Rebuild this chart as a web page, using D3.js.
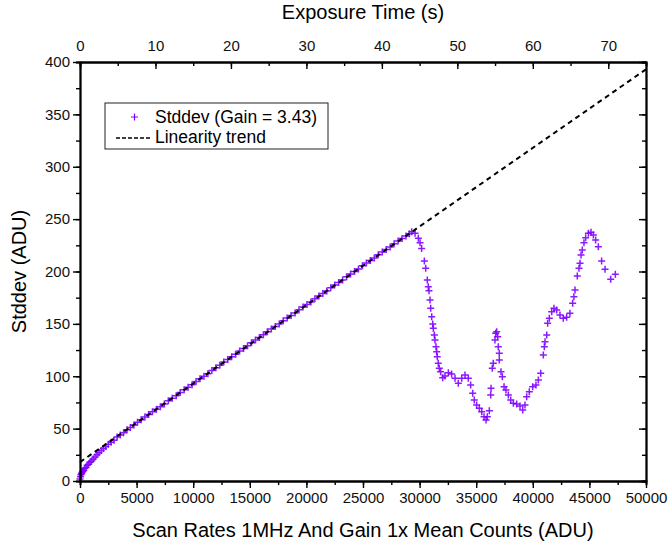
<!DOCTYPE html>
<html>
<head>
<meta charset="utf-8">
<script src="https://cdn.jsdelivr.net/npm/d3@7"></script>
<style>
  body { margin: 0; background: #fff; }
  svg { font-family: "Liberation Sans", Arial, sans-serif; }
</style>
</head>
<body>
<div id="chart"></div>
<script>
// mean counts (ADU) and stddev (ADU)
const meanCounts = [
  0, 40, 80, 130, 180, 250, 330, 420, 520, 630, 750, 880, 1020, 1170, 1330, 1500, 1680, 1870, 2070, 2280,
  2500, 2750, 3000, 3280, 3560, 3850, 4150, 4450, 4760, 5080, 5400, 5730, 6060, 6400, 6750, 7100, 7450, 7800,
  8150, 8500, 8850, 9200, 9550, 9900, 10250, 10600, 10950, 11300, 11650, 12000, 12350, 12700, 13050, 13400,
  13750, 14100, 14450, 14800, 15150, 15500, 15850, 16200, 16550, 16900, 17250, 17600, 17950, 18300, 18650,
  19000, 19350, 19700, 20050, 20400, 20750, 21100, 21450, 21800, 22150, 22500, 22850, 23200, 23550, 23900,
  24250, 24600, 24950, 25300, 25650, 26000, 26350, 26700, 27050, 27400, 27750, 28100, 28450, 28800, 29100, 29300,
  29600, 29890, 30040, 30180, 30420, 30540, 30680, 30770, 30830, 30920, 30980, 31070, 31160, 31210, 31300,
  31360, 31450, 31510, 31560, 31650, 31740, 31860, 32040, 32240, 32540, 32830, 33130, 33420, 33720, 34010,
  34300, 34510, 34690, 34830, 35040, 35280, 35490, 35690, 35870, 35980, 36160, 36280, 36310, 36420, 36510,
  36660, 36720, 36810, 36900, 36950, 37040, 37040, 37190, 37310, 37460, 37630, 37840, 38050, 38280, 38580,
  38870, 39110, 39310, 39460, 39690, 39990, 40280, 40490, 40700, 40930, 41020, 41080, 41230, 41310, 41460,
  41670, 41870, 42110, 42400, 42690, 42990, 43280, 43520, 43630, 43730, 43930, 44080, 44170, 44260, 44370,
  44520, 44670, 44910, 45140, 45350, 45550, 45790, 46080, 46380, 46880, 47290
];
const stddev = [
  2, 4, 6, 7, 8, 9, 10, 12, 13, 15, 16, 18, 19, 21, 23, 25, 27, 29, 31, 33,
  35, 37, 39, 42, 44, 46, 49, 51, 53.5, 56, 58.5, 61, 63.5, 66, 68.5, 71, 73.5, 76.5,
  79, 81.5, 84.5, 87, 89.5, 92, 95, 97.5, 100, 102.5, 105.5, 108, 110.5, 113.5, 116, 118.5,
  121, 124, 126.5, 129, 132, 134.5, 137, 139.5, 142.5, 145, 147.5, 150, 153, 155.5, 158,
  160.5, 163.5, 166, 168.5, 171, 174, 176.5, 179, 181.5, 184.5, 187, 189.5, 192, 195, 197.5,
  200, 202.5, 205.5, 208, 210.5, 213, 216, 218.5, 221, 223.5, 226.5, 229, 231.5, 234, 236, 238,
  236.5, 231.7, 227.5, 222, 210, 203, 192, 185.5, 181.7, 172.8, 164.9, 156.9, 150, 145.8, 139.4,
  134.6, 128.2, 123.4, 118.7, 112.3, 107.6, 104.4, 98.6, 100.2, 103.4, 102.1, 98, 93.2, 98, 101.2,
  98, 91.6, 83.7, 77.3, 72.6, 69.4, 66.2, 61.4, 58.2, 61.4, 67.1, 82.1, 88.5, 107.6, 112.3,
  134.6, 141, 142.5, 137.8, 128.2, 121.9, 115.5, 104.4, 99.6, 90, 86.9, 82.1, 77.3, 74.2, 73.5,
  71.6, 67.8, 72.6, 80.5, 85.2, 90, 91.6, 96.4, 102.8, 120.3, 128.2, 133, 139.4, 150.5, 155.3,
  161.6, 164.9, 163.2, 158.5, 155.3, 156.3, 160.1, 169.6, 175.9, 182.3, 195.7, 203, 207.8, 215.7, 220.5,
  227.5, 232.3, 236.5, 237.4, 234.8, 230, 223.7, 210, 202.1, 192.6, 197.3
];
// linearity trend end points
const trendX = [0, 50000];
const trendY = [18, 393];

const xTicks = [0, 5000, 10000, 15000, 20000, 25000, 30000, 35000, 40000, 45000, 50000];
const yTicks = [0, 50, 100, 150, 200, 250, 300, 350, 400];
const timeTicks = [0, 10, 20, 30, 40, 50, 60, 70];

const width = 668, height = 550;
const margin = {top: 62, right: 22, bottom: 69, left: 80};
const purple = "#8000ff";

const svg = d3.select("#chart").append("svg")
  .attr("width", width)
  .attr("height", height);

const x = d3.scaleLinear().domain([0, 50000]).range([margin.left, width - margin.right]);
const xTop = d3.scaleLinear().domain([0, 75]).range([margin.left, width - margin.right]);
const y = d3.scaleLinear().domain([0, 400]).range([height - margin.bottom, margin.top]);

const minor = (lo, hi, step) => d3.range(lo, hi + step / 2, step);

// points
const data = meanCounts.map((m, i) => [m, stddev[i]]);
svg.append("g")
  .attr("stroke", purple)
  .attr("stroke-width", 1.5)
  .attr("stroke-opacity", 0.9)
  .attr("fill", "none")
  .selectAll("path")
  .data(data)
  .join("path")
  .attr("d", "M-3.5,0H3.5M0,-3.5V3.5")
  .attr("transform", d => `translate(${x(d[0])},${y(d[1])})`);

// trend line
svg.append("path")
  .attr("fill", "none")
  .attr("stroke", "#000")
  .attr("stroke-width", 2)
  .attr("stroke-dasharray", "5,4")
  .attr("d", d3.line()(trendX.map((t, i) => [x(t), y(trendY[i])])));

function styleAxis(g) {
  g.selectAll(".domain").attr("stroke-width", 1.8);
  g.selectAll(".tick line").attr("stroke-width", 1.4);
  g.selectAll("text").attr("font-size", 15).attr("fill", "#111")
    .attr("font-family", "Liberation Sans, Arial, sans-serif");
}

// bottom axis
svg.append("g").attr("transform", `translate(0,${y(0)})`)
  .call(d3.axisBottom(x).tickValues(minor(0, 50000, 2500)).tickSize(4).tickFormat(""))
  .call(styleAxis);
svg.append("g").attr("transform", `translate(0,${y(0)})`)
  .call(d3.axisBottom(x).tickValues(xTicks).tickSize(7).tickSizeOuter(0).tickPadding(4).tickFormat(d3.format("d")))
  .call(styleAxis);

// left axis
svg.append("g").attr("transform", `translate(${x(0)},0)`)
  .call(d3.axisLeft(y).tickValues(minor(0, 400, 25)).tickSize(4).tickFormat(""))
  .call(styleAxis);
svg.append("g").attr("transform", `translate(${x(0)},0)`)
  .call(d3.axisLeft(y).tickValues(yTicks).tickSize(7).tickSizeOuter(0).tickPadding(3))
  .call(styleAxis);

// right axis, ticks inward
svg.append("g").attr("transform", `translate(${x(50000)},0)`)
  .call(d3.axisRight(y).tickValues(minor(0, 400, 25)).tickSize(-4).tickFormat(""))
  .call(styleAxis);
svg.append("g").attr("transform", `translate(${x(50000)},0)`)
  .call(d3.axisRight(y).tickValues(yTicks).tickSize(-7).tickSizeOuter(0).tickFormat(""))
  .call(styleAxis);

// top axis: exposure time, ticks inward
svg.append("g").attr("transform", `translate(0,${y(400)})`)
  .call(d3.axisTop(xTop).tickValues(minor(0, 75, 5)).tickSize(-4).tickFormat(""))
  .call(styleAxis);
svg.append("g").attr("transform", `translate(0,${y(400)})`)
  .call(d3.axisTop(xTop).tickValues(timeTicks).tickSize(-7).tickSizeOuter(0).tickPadding(11))
  .call(styleAxis);

// titles
const cx = (x(0) + x(50000)) / 2;
svg.append("text").attr("x", cx).attr("y", 19).attr("text-anchor", "middle")
  .attr("font-size", 20).text("Exposure Time (s)");
svg.append("text").attr("x", cx).attr("y", 537).attr("text-anchor", "middle")
  .attr("font-size", 20).text("Scan Rates 1MHz And Gain 1x Mean Counts (ADU)");
svg.append("text").attr("transform", `translate(26,${(y(0) + y(400)) / 2}) rotate(-90)`)
  .attr("text-anchor", "middle").attr("font-size", 20).text("Stddev (ADU)");

// legend
const legend = svg.append("g").attr("transform", "translate(105,103)");
legend.append("rect").attr("width", 223).attr("height", 46)
  .attr("fill", "#fff").attr("stroke", "#222").attr("stroke-width", 1);
legend.append("path").attr("d", "M26,14H33M29.5,10.5V17.5")
  .attr("stroke", purple).attr("stroke-width", 1.2);
legend.append("text").attr("x", 50).attr("y", 20).attr("font-size", 17.5).text("Stddev (Gain = 3.43)");
legend.append("line").attr("x1", 11).attr("x2", 45).attr("y1", 35).attr("y2", 35)
  .attr("stroke", "#000").attr("stroke-width", 1.5).attr("stroke-dasharray", "4,2");
legend.append("text").attr("x", 50).attr("y", 40).attr("font-size", 17.5).text("Linearity trend");
</script>
</body>
</html>
